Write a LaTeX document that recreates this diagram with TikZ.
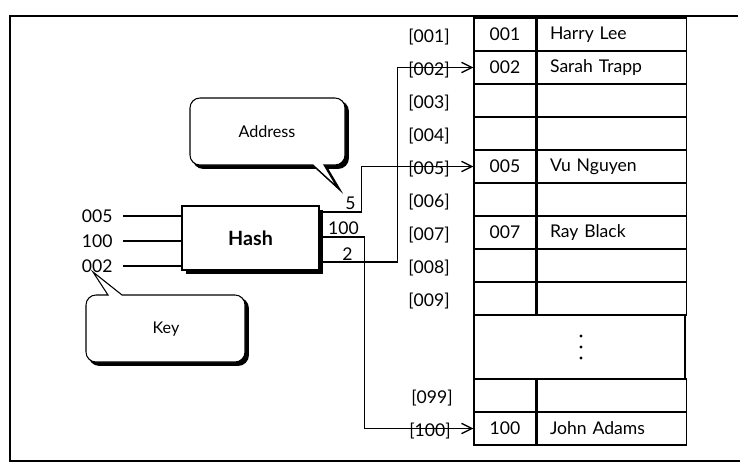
\documentclass[tikz,border=0pt]{standalone}
\usepackage{fontspec}
\setmainfont{Lato}
\usetikzlibrary{calc,arrows.meta,shadows}

\begin{document}
\begin{tikzpicture}[
  % --- one unit = one pixel of the sketch, y pointing down
  x=0.25mm, y=-0.25mm,
  line width=0.75pt,
  every node/.style={font=\fontsize{12.5}{14}\selectfont},
  % table cells
  keycell/.style={draw, minimum width=15.5mm, minimum height=8.25mm, inner sep=0pt},
  namecell/.style={draw, anchor=west, minimum height=8.25mm, text width=30.75mm,
    inner xsep=3.25mm, inner ysep=0pt, align=left},
  slot/.style={inner sep=0pt},
  % hash box and speech bubbles
  hashbox/.style={draw, fill=white, minimum width=34.25mm, minimum height=16mm,
    font=\fontsize{14}{16}\selectfont\bfseries,
    drop shadow={shadow xshift=0.9mm, shadow yshift=-0.9mm, fill=black, opacity=1}},
  bubble/.style={draw, fill=white,
    preaction={fill=black, draw=black, line width=1pt,
      transform canvas={xshift=0.8mm, yshift=-0.8mm}}},
  note/.style={font=\fontsize{11.5}{13}\selectfont},
  arr/.style={-{Straight Barb[length=2.6mm, width=2.6mm, line width=1pt]}},
]
\useasboundingbox (0,0) rectangle (744,465);

% outer frame (open on the right)
\draw (738,16) -- (10,16) -- (10,461) -- (740,461);

%========================
% Speech bubbles
%========================
\draw[bubble, rounded corners=2.5mm]
  (190,98) -- (345,98) -- (345,165) [sharp corners] -- (324,165)
  -- (337,187) -- (313,165) [rounded corners=2.5mm] -- (190,165) -- cycle;
\node[note] (address) at (267,132) {Address};

\draw[bubble]
  (122,295) [rounded corners=2.5mm] -- (245,295) -- (245,362) -- (86,362)
  -- (86,295) [sharp corners] -- (108,295) -- (93,272) -- cycle;
\node[note] (key) at (166,329) {Key};

%========================
% Table of records
%========================
\foreach \i/\k/\n in {1/001/Harry Lee, 2/002/Sarah Trapp, 3//, 4//,
    5/005/Vu Nguyen, 6//, 7/007/Ray Black, 8//, 9//} {
  \node[keycell] (k\i) at (505, 1.5+33*\i) {\k};
  \node[namecell] (n\i) at (k\i.east) {\n};
  \node[slot] (s\i) at (429, 4.5+33*\i) {[00\i]};
}

% skipped rows
\node[draw, minimum width=52.75mm, minimum height=16mm, inner sep=0pt] (gap) at (579.5,347) {};
\foreach \d in {-11,0,11}
  \fill ($(gap.center)+(1.5,\d)$) circle (1.7);

\node[keycell] (k99) at (505,395.5) {};
\node[namecell] (n99) at (k99.east) {};
\node[slot] (s99) at (432,398) {[099]};

\node[keycell] (k100) at (505,428.5) {100};
\node[namecell] (n100) at (k100.east) {John Adams};
\node[slot] (s100) at (430,431) {[100]};

%========================
% Hash function
%========================
\node[hashbox] (hash) at (250.5,238) {Hash};

% keys going in
\foreach \v/\y in {005/216, 100/241, 002/266} {
  \node[slot, anchor=east] (in\v) at (113,\y) {\v};
  \draw ([xshift=2.5mm]in\v.east) -- (in\v -| hash.west);
}

% addresses coming out
\coordinate (o5) at ($(hash.east)+(3,-26)$);
\coordinate (o100) at ($(hash.east)+(3,-1)$);
\coordinate (o2) at ($(hash.east)+(3,24)$);

\node[slot, above=1pt] (r5) at ($(o5)+(28,0)$) {5};
\node[slot, above=1pt] (r100) at ($(o100)+(21,0)$) {100};
\node[slot, above=1pt] (r2) at ($(o2)+(25,0)$) {2};

\draw[arr] (o5) -- ++(39,0) |- (k5.west);
\draw[arr] (o100) -- ++(42,0) |- (k100.west);
\draw[arr] (o2) -- ++(75,0) |- (k2.west);

\end{tikzpicture}
\end{document}
